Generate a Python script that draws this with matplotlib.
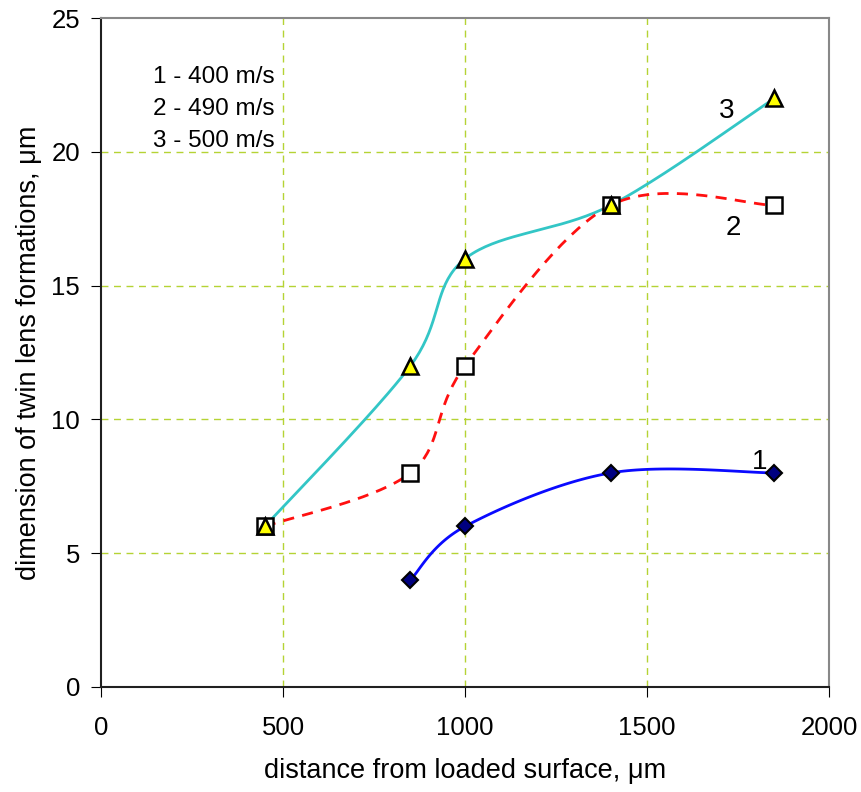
import numpy as np
import matplotlib
matplotlib.use("Agg")
import matplotlib.pyplot as plt

plt.rcParams['font.family'] = ['Liberation Sans', 'DejaVu Sans']

# данные
x1 = [850, 1000, 1400, 1850]
y1 = [4, 6, 8, 8]
x2 = [450, 850, 1000, 1400, 1850]
y2 = [6, 8, 12, 18, 18]
x3 = [450, 850, 1000, 1400, 1850]
y3 = [6, 12, 16, 18, 22]
legend_lines = ['1 - 400 m/s', '2 - 490 m/s', '3 - 500 m/s']


# сглаживание как в Excel (кривые Безье)
def smooth(xs, ys, n=40):
    p = np.column_stack([xs, ys]).astype(float)
    m = len(p)
    out = [p[0]]
    t = np.linspace(0, 1, n)[1:, None]
    for i in range(m - 1):
        p0 = p[i - 1] if i > 0 else p[i]
        p3 = p[i + 2] if i + 2 < m else p[i + 1]
        c1 = p[i] + (p[i + 1] - p0) / 6
        c2 = p[i + 1] - (p3 - p[i]) / 6
        seg = ((1 - t) ** 3) * p[i] + 3 * ((1 - t) ** 2) * t * c1 \
            + 3 * (1 - t) * t ** 2 * c2 + t ** 3 * p[i + 1]
        out.extend(seg)
    out = np.array(out)
    return out[:, 0], out[:, 1]


fig = plt.figure(figsize=(8.62, 7.92), dpi=100)
ax = fig.add_axes([101 / 862, 1 - 687 / 792, 728 / 862, 669 / 792])

grid_c = '#b5d334'
for gx in [500, 1000, 1500]:
    ax.axvline(gx, color=grid_c, lw=1, ls=(0, (5, 4)), zorder=0)
for gy in [5, 10, 15, 20]:
    ax.axhline(gy, color=grid_c, lw=1, ls=(0, (5, 4)), zorder=0)

sx, sy = smooth(x3, y3)
ax.plot(sx, sy, color='#33c6c6', lw=2, zorder=2)
sx, sy = smooth(x2, y2)
ax.plot(sx, sy, color='#ff1010', lw=2, ls=(0, (4, 3)), zorder=2)
sx, sy = smooth(x1, y1)
ax.plot(sx, sy, color='#0a0aff', lw=2, zorder=2)

ax.plot(x1, y1, ls='none', marker='D', ms=8, mfc='#000080', mec='black', mew=1.5, zorder=3)
ax.plot(x2, y2, ls='none', marker='s', ms=11, mfc='white', mec='black', mew=1.8, zorder=3)
ax.plot(x3, y3, ls='none', marker='^', ms=11, mfc='#ffff00', mec='black', mew=1.8, zorder=4)

ax.text(1810, 8.41, '1', fontsize=20, ha='center', va='center')
ax.text(1736, 17.15, '2', fontsize=20, ha='center', va='center')
ax.text(1720, 21.52, '3', fontsize=20, ha='center', va='center')

for i, s in enumerate(legend_lines):
    ax.text(478, 22.8 - i * 1.2, s, fontsize=17.5, ha='right', va='center')

ax.set_xlim(0, 2000)
ax.set_ylim(0, 25)
ax.set_xticks([0, 500, 1000, 1500, 2000])
ax.set_yticks([0, 5, 10, 15, 20, 25])
ax.tick_params(direction='out', length=7, labelsize=18.5, pad=8)
ax.tick_params(axis='x', pad=14)
ax.spines['left'].set_color('#202020')
ax.spines['bottom'].set_color('#202020')
ax.spines['top'].set_color('#888888')
ax.spines['right'].set_color('#888888')
for s in ax.spines.values():
    s.set_linewidth(1.5)

ax.set_xlabel('distance from loaded surface, μm', fontsize=19.5, labelpad=13)
ax.set_ylabel('dimension of twin lens formations, μm', fontsize=19.5, labelpad=7)

fig.savefig('out.png', dpi=100)
